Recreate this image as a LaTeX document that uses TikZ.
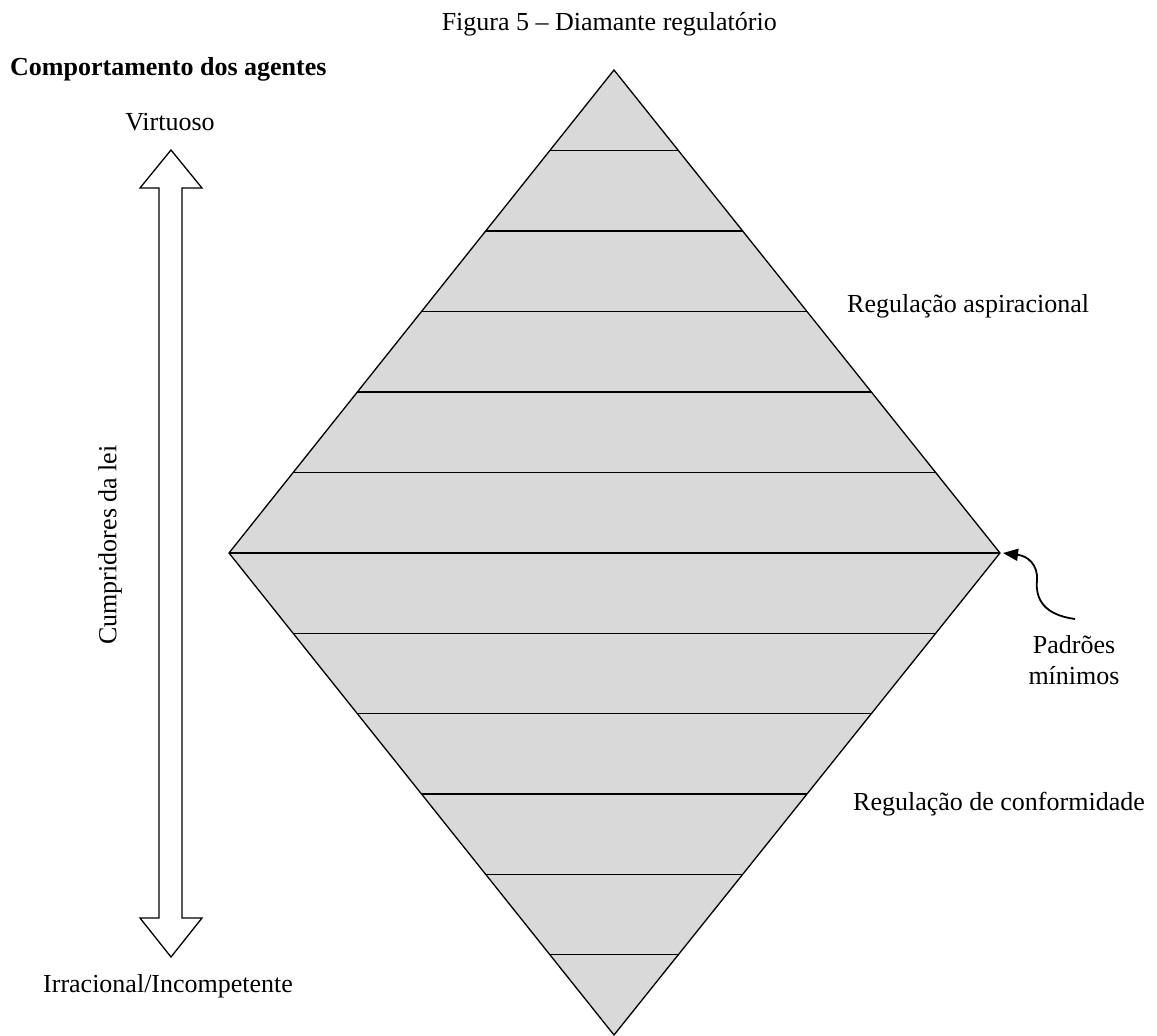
\documentclass[tikz,border=0pt]{standalone}
\usepackage{fontspec}
\setmainfont{Liberation Serif}
\usetikzlibrary{arrows.meta,calc}
\begin{document}
\begin{tikzpicture}[x=1pt,y=-1pt,
  lbl/.style={inner sep=0pt,font=\fontsize{26}{31}\selectfont},
  edge/.style={line width=1.3pt,line join=miter},
  stripe/.style={line width=1.3pt}]
\useasboundingbox (0,0) rectangle (1157,1036);
% diamond corners
\coordinate (T) at (614,70);
\coordinate (L) at (229,553);
\coordinate (R) at (1000,553);
\coordinate (B) at (614,1035);
\fill[gray!30] (T) -- (R) -- (B) -- (L) -- cycle;
\foreach \k in {1,...,5}{
  \draw[stripe] ($(T)!\k/6!(L)$) -- ($(T)!\k/6!(R)$);
  \draw[stripe] ($(B)!\k/6!(L)$) -- ($(B)!\k/6!(R)$);
}
\draw[stripe] (L) -- (R);
\draw[edge] (T) -- (R) -- (B) -- (L) -- cycle;
% double arrow
\draw[edge,fill=white] (171,150) -- (202,188) -- (182,188) -- (182,918) -- (202,918) -- (171,957)
  -- (140,918) -- (159,918) -- (159,188) -- (140,188) -- cycle;
% texts
\node[lbl,anchor=base east] (title) at (777,30) {Figura 5 -- Diamante regulatório};
\node[lbl,anchor=base west,font=\fontsize{26}{31}\selectfont\bfseries] (comp) at (10,75) {Comportamento dos agentes};
\node[lbl,anchor=base] (virt) at (170,130) {Virtuoso};
\node[lbl,anchor=base west] (irr) at (43,992) {Irracional/Incompetente};
\node[lbl,rotate=90] (cump) at (110,545) {Cumpridores da lei};
\node[lbl,anchor=base west] (asp) at (847,312) {Regulação aspiracional};
\node[lbl,anchor=base east] (conf) at (1145,810) {Regulação de conformidade};
\node[lbl,align=center] (pad) at (1074,660) {Padrões\\mínimos};
% curved arrow
\coordinate (cstart) at (1075,619);
\coordinate (Rtip) at (1003,553);
\draw[line width=1.8pt,-{Triangle[length=15pt,width=12pt]}] (cstart) .. controls (1045,615) and (1035,600) .. (1037,580)
  .. controls (1038,565) and (1028,556) .. (Rtip);
\end{tikzpicture}
\end{document}
